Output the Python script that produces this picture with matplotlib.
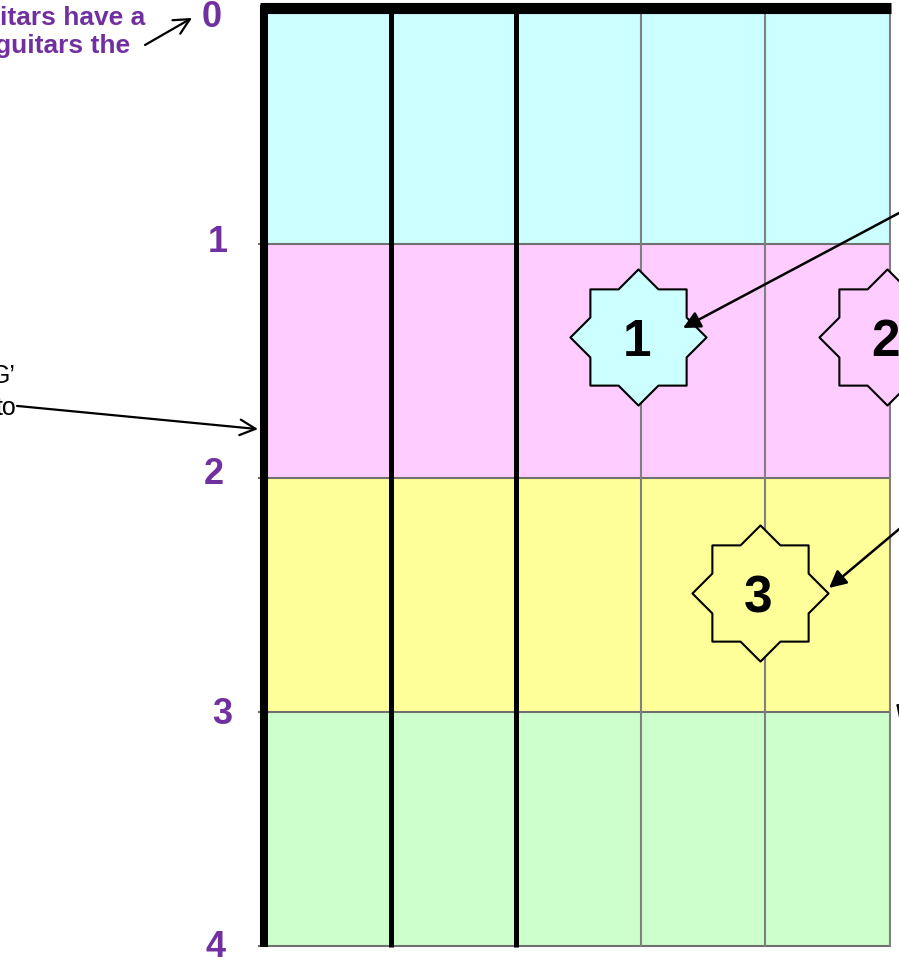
import matplotlib
matplotlib.use("Agg")
import matplotlib.pyplot as plt
from matplotlib.path import Path
import numpy as np

# ---- data ----
frets = [0, 1, 2, 3, 4]
fret_labels = ["0", "1", "2", "3", "4"]
row_colors = ["#CCFFFF", "#FFCCFF", "#FFFF99", "#CCFFCC"]
strings = [0, 1, 2, 3, 4, 5]
star_x = [2.985, 4.976, 3.956]
star_y = [1.399, 1.397, 2.493]
star_labels = ["1", "2", "3"]
star_colors = ["#CCFFFF", "#FFCCFF", "#FFFF99"]
note_top = ["itars have a", "guitars the"]
note_left = ["G\u2019", "to"]

PURPLE = "#7030A0"
plt.rcParams["font.family"] = ["Liberation Sans", "DejaVu Sans"]

fig = plt.figure(figsize=(8.99, 9.6), dpi=100)
ax = fig.add_axes([0, 0, 1, 1])
ax.set_xlim(-2.12, 5.072)
ax.set_ylim(4.0598, -0.0427)
ax.axis("off")

# coloured fret rows
n = len(frets) - 1
ax.barh([f + 0.5 for f in frets[:-1]], [strings[-1] - strings[0]] * n, height=1.0,
        left=strings[0], color=row_colors, edgecolor="none", zorder=1)

# fret lines
for f in frets[1:]:
    ax.plot([strings[0] - 0.05, strings[-1]], [f, f], color="#707070", lw=1.5, zorder=2)

# strings
string_style = {0: ("black", 5.8), 1: ("black", 3.6), 2: ("black", 3.6)}
for s in strings:
    c, w = string_style.get(s, ("#808080", 1.5))
    off = -0.008 if s == 0 else 0.004
    ax.plot([s + off, s + off], [-0.02, frets[-1] + 0.003], color=c, lw=w,
            solid_capstyle="butt", zorder=3)

# nut
ax.plot([strings[0] - 0.04, strings[-1] + 0.01], [-0.0064, -0.0064], color="black",
        lw=8, solid_capstyle="butt", zorder=4)

# fret numbers
label_dx = [-0.424, -0.376, -0.408, -0.344, -0.392]
label_dy = [0.073, 0.034, 0.026, 0.051, 0.047]
for f, lab, dx, dy in zip(frets, fret_labels, label_dx, label_dy):
    ax.text(dx, f + dy, lab, color=PURPLE, fontsize=26, fontweight="bold",
            ha="center", va="baseline", zorder=5)

# eight-point star marker
R = 1.0
r = np.cos(np.pi / 4) / np.cos(np.pi / 8)
verts = []
for k in range(16):
    ang = np.pi / 2 - k * np.pi / 8
    rad = R if k % 2 == 0 else r
    verts.append((rad * np.cos(ang), rad * np.sin(ang)))
verts.append(verts[0])
codes = [Path.MOVETO] + [Path.LINETO] * 15 + [Path.CLOSEPOLY]
star = Path(verts, codes)

for x, y, lab, c in zip(star_x, star_y, star_labels, star_colors):
    ax.plot([x], [y], marker=star, markersize=98, markerfacecolor=c,
            markeredgecolor="black", markeredgewidth=1.5, linestyle="none", zorder=6)
    ax.text(x - 0.01, y, lab, fontsize=37, fontweight="bold", color="black",
            ha="center", va="center_baseline", zorder=7)

# annotation texts
ax.text(-0.96, 0.066, note_top[0], color=PURPLE, fontsize=19, fontweight="bold",
        ha="right", va="baseline", zorder=5)
ax.text(-1.08, 0.184, note_top[1], color=PURPLE, fontsize=19, fontweight="bold",
        ha="right", va="baseline", zorder=5)
ax.text(-1.999, 1.594, note_left[0], color="black", fontsize=18,
        ha="right", va="baseline", zorder=5)
ax.text(-1.987, 1.730, note_left[1], color="black", fontsize=18,
        ha="right", va="baseline", zorder=5)

# arrows
open_arrow = dict(arrowstyle="->", color="black", lw=1.6, mutation_scale=28,
                  shrinkA=0, shrinkB=0)
solid_arrow = dict(arrowstyle="-|>", color="black", lw=1.8, mutation_scale=26,
                   shrinkA=0, shrinkB=0)
ax.annotate("", xy=(-0.584, 0.034), xytext=(-0.96, 0.1496), arrowprops=open_arrow,
            annotation_clip=False, zorder=8)
ax.annotate("", xy=(-0.056, 1.791), xytext=(-1.984, 1.692), arrowprops=open_arrow,
            annotation_clip=False, zorder=8)
ax.annotate("", xy=(3.344, 1.359), xytext=(5.56, 0.729), arrowprops=solid_arrow,
            annotation_clip=False, zorder=8)
ax.annotate("", xy=(4.512, 2.470), xytext=(5.56, 2.0), arrowprops=solid_arrow,
            annotation_clip=False, zorder=8)
ax.annotate("", xy=(5.048, 2.962), xytext=(5.40, 3.20), arrowprops=solid_arrow,
            annotation_clip=False, zorder=8)

fig.savefig("out.png", dpi=100)
